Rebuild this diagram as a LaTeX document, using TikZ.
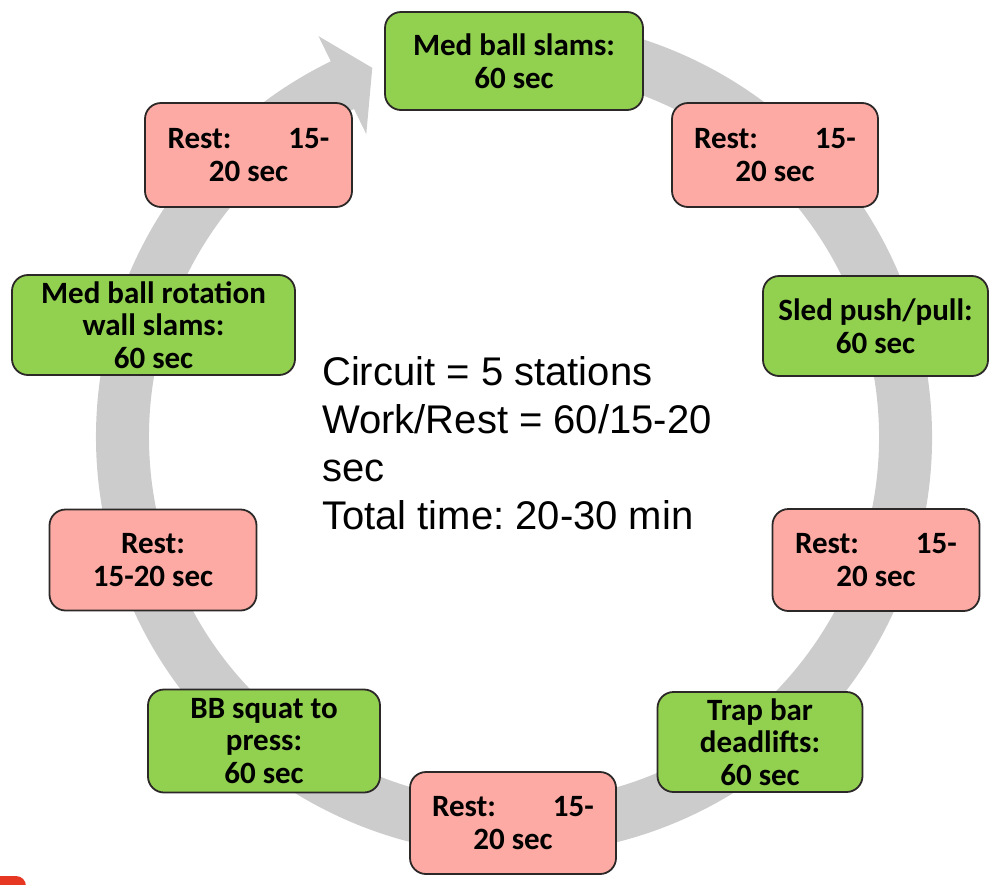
\documentclass[tikz,border=0pt]{standalone}
\usepackage{fontspec}
\setmainfont{Liberation Sans}
\newfontfamily\boxfont{Carlito}
\usetikzlibrary{calc}
\definecolor{ggreen}{RGB}{146,208,80}
\definecolor{ppink}{RGB}{252,170,163}
\definecolor{ringgray}{RGB}{204,204,204}
\definecolor{edgecol}{RGB}{45,40,40}
\definecolor{redmark}{RGB}{230,55,35}
\frenchspacing
\begin{document}
\begin{tikzpicture}[x=1pt,y=-1pt,
  station/.style={draw=edgecol, line width=1.8pt, rounded corners=16pt, align=center, inner sep=0pt,
    font=\boxfont\bfseries\fontsize{31}{32.5}\selectfont},
  work/.style={station, fill=ggreen},
  rest/.style={station, fill=ppink}]
\useasboundingbox (0,0) rectangle (996,884);
% circular arrow
\coordinate (C) at (514,437);
\draw[ringgray, line width=53pt] ($(C)+(-100:391.5)$) arc[start angle=-100, end angle=244.5, radius=391.5];
\fill[ringgray] ($(C)+(244:446)$) coordinate (hb1) -- ($(C)+(249:395.4)$) coordinate (tip) -- ($(C)+(244:337)$) coordinate (hb2) -- cycle;
% red sliver bottom-left
\begin{scope}
\clip (0,0) rectangle (996,884);
\fill[redmark, rounded corners=10pt] (-30,876) rectangle (26,920);
\end{scope}
% stations
\node[work, minimum width=258pt, minimum height=98pt] (s1) at (514,61) {Med ball slams:\\60 sec};
\node[rest, minimum width=206pt, minimum height=104pt] (r1) at (775,155) {Rest:\hspace{57pt}15-\\20 sec};
\node[work, minimum width=225pt, minimum height=100pt] (s2) at (875.5,326) {Sled push/pull:\\60 sec};
\node[rest, minimum width=207pt, minimum height=102pt] (r2) at (876,560) {Rest:\hspace{57pt}15-\\20 sec};
\node[work, minimum width=205pt, minimum height=100pt] (s3) at (760,742) {Trap bar\\deadlifts:\\60 sec};
\node[rest, minimum width=206pt, minimum height=102pt] (r3) at (513,823) {Rest:\hspace{57pt}15-\\20 sec};
\node[work, minimum width=232pt, minimum height=103pt] (s4) at (264,741) {BB squat to\\press:\\60 sec};
\node[rest, minimum width=207pt, minimum height=101pt] (r4) at (153,560) {Rest:\\15-20 sec};
\node[work, minimum width=283pt, minimum height=100pt] (s5) at (153.5,325) {Med ball rotation\\wall slams:\\60 sec};
\node[rest, minimum width=207pt, minimum height=104pt] (r5) at (248.5,155) {Rest:\hspace{57pt}15-\\20 sec};
% centre text
\node[anchor=north west, align=left, inner sep=0pt, font=\fontsize{40}{48}\selectfont] (info) at (322,356)
  {Circuit = 5 stations\\Work/Rest = 60/15-20\\sec\\Total time: 20-30 min};
\end{tikzpicture}
\end{document}
